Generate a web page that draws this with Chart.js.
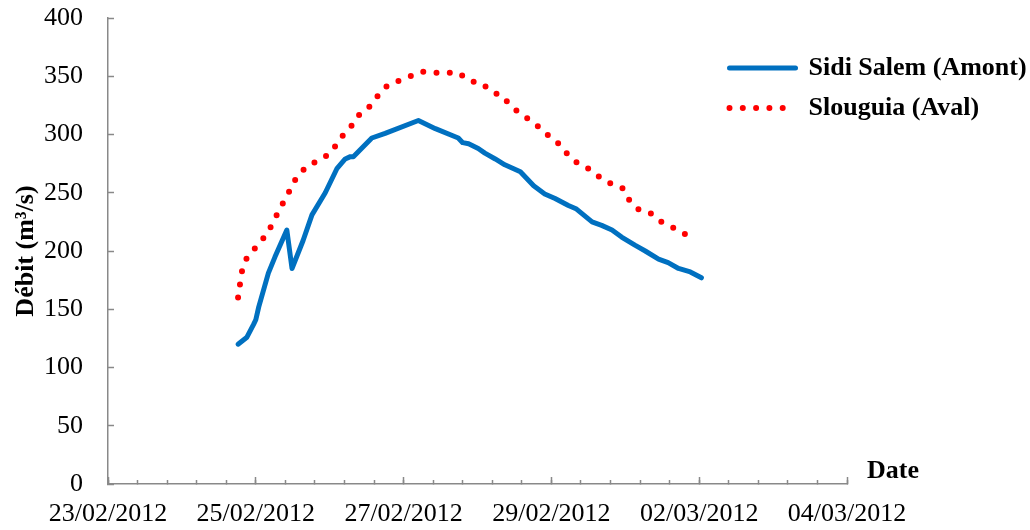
<!DOCTYPE html>
<html>
<head>
<meta charset="utf-8">
<script src="https://cdn.jsdelivr.net/npm/chart.js@4.4.1/dist/chart.umd.min.js"></script>
<style>
  body { margin: 0; background: #fff; }
</style>
</head>
<body>
<canvas id="debit-chart" width="1030" height="530"></canvas>
<script>
// time in days counted from 23/02/2012 00:00, flow in m3/s
var sidiDays = [1.76, 1.88, 1.97, 2.00, 2.04, 2.17, 2.26, 2.42, 2.49, 2.64, 2.76, 2.94, 3.10, 3.21, 3.28, 3.32,
                3.57, 3.75, 4.20, 4.43, 4.74, 4.80, 4.88, 5.01, 5.10, 5.24, 5.37, 5.58, 5.76, 5.91, 6.05,
                6.14, 6.23, 6.34, 6.55, 6.68, 6.82, 6.95, 7.13, 7.27, 7.45, 7.58, 7.72, 7.88, 8.03];
var sidiFlow = [120, 126, 137, 141, 152, 181, 195, 218, 185, 209, 231, 250, 271, 279, 281, 281,
                297, 301, 312, 305, 297, 293, 292, 288, 284, 279, 274, 268, 256, 249, 245,
                242, 239, 236, 225, 222, 218, 212, 205, 200, 193, 190, 185, 182, 177];

var slouDays = [1.76, 1.81, 1.87, 1.97, 2.08, 2.18, 2.26, 2.34, 2.43, 2.50, 2.60, 2.72, 2.87, 3.01, 3.11, 3.21,
                3.32, 3.41, 3.56, 3.66, 3.78, 3.93, 4.09, 4.25, 4.38, 4.57, 4.74, 4.89, 5.06, 5.18, 5.34,
                5.44, 5.58, 5.72, 5.86, 5.98, 6.12, 6.23, 6.36, 6.52, 6.66, 6.80, 6.96, 7.05, 7.17, 7.33,
                7.46, 7.62, 7.77, 7.92];
var slouFlow = [160, 182, 193, 201, 209, 218, 228, 238, 248, 258, 267, 274, 278, 284, 293, 302,
                309, 318, 325, 334, 342, 346, 350, 354, 353, 353, 353, 346, 344, 337, 333,
                325, 318, 312, 305, 298, 291, 282, 275, 270, 263, 258, 254, 244, 236, 233,
                226, 221, 216, 210];

// one label every 2 days
var dateLabels = ['23/02/2012', '25/02/2012', '27/02/2012', '29/02/2012', '02/03/2012', '04/03/2012'];
var yTicks = [0, 50, 100, 150, 200, 250, 300, 350, 400];

function toPoints(days, flow) {
    var pts = [];
    for (var i = 0; i < days.length; i++) {
        pts.push({ x: days[i], y: flow[i] });
    }
    return pts;
}

var axisGrey = '#898989';
Chart.defaults.font.family = 'Liberation Serif';
Chart.defaults.color = '#000';

// put the legend inside the plot, top right
var placeLegend = {
    id: 'placeLegend',
    afterLayout: function(chart) {
        var lg = chart.legend;
        lg.left = 715.5;
        lg.top = 41;
        lg.right = chart.width;
        lg.bottom = lg.top + lg.height + 10;
    }
};

// "Date" written at the end of the x axis
var dateTitle = {
    id: 'dateTitle',
    afterDraw: function(chart) {
        var c = chart.ctx, area = chart.chartArea;
        c.save();
        c.font = 'bold 26px "Liberation Serif"';
        c.fillStyle = '#000';
        c.textAlign = 'left';
        c.textBaseline = 'middle';
        c.fillText('Date', area.right + 20, area.bottom - 13);
        c.restore();
    }
};

var ctx = document.getElementById('debit-chart');

var chart = new Chart(ctx, {
    type: 'line',
    data: {
        datasets: [
            {
                label: 'Sidi Salem (Amont)',
                data: toPoints(sidiDays, sidiFlow),
                borderColor: '#0070C0',
                backgroundColor: '#0070C0',
                borderWidth: 5,
                borderCapStyle: 'round',
                borderJoinStyle: 'round',
                pointRadius: 0,
                tension: 0
            },
            {
                label: 'Slouguia (Aval)',
                data: toPoints(slouDays, slouFlow),
                borderColor: '#FF0000',
                backgroundColor: '#FF0000',
                borderWidth: 6,
                borderDash: [0, 13.3],
                borderCapStyle: 'round',
                pointRadius: 0,
                tension: 0
            }
        ]
    },
    options: {
        responsive: false,
        animation: false,
        layout: { padding: { left: 0, right: 183, top: 18, bottom: 0 } },
        plugins: {
            tooltip: { enabled: false },
            legend: {
                position: 'chartArea',
                align: 'start',
                labels: {
                    usePointStyle: true,
                    pointStyle: 'line',
                    pointStyleWidth: 66,
                    padding: 14,
                    color: '#000',
                    font: { size: 26, weight: 'bold' },
                    // point style items lose the dash, take it from the dataset
                    generateLabels: function(chart) {
                        var items = Chart.defaults.plugins.legend.labels.generateLabels(chart);
                        items.forEach(function(it) {
                            var ds = chart.data.datasets[it.datasetIndex];
                            it.lineDash = ds.borderDash || [];
                            it.lineCap = ds.borderCapStyle || 'butt';
                            it.lineWidth = ds.borderWidth;
                        });
                        return items;
                    }
                }
            }
        },
        scales: {
            x: {
                type: 'linear',
                position: 'bottom',
                min: 0,
                max: 10,
                afterFit: function(s) { s.height = 46; },
                border: { color: axisGrey, width: 1.5 },
                grid: { drawOnChartArea: false, tickLength: -4, color: axisGrey, tickWidth: 1.5 },
                ticks: {
                    stepSize: 0.4,
                    autoSkip: false,
                    maxRotation: 0,
                    padding: 19,
                    font: { size: 26 },
                    callback: function(v, i) {
                        return i % 5 === 0 ? dateLabels[i / 5] : '';
                    }
                }
            },
            // longer tick marks every 2 days
            xMajor: {
                type: 'linear',
                position: 'bottom',
                weight: -1,
                min: 0,
                max: 10,
                afterFit: function(s) { s.height = 0; },
                border: { display: false },
                grid: { drawOnChartArea: false, tickLength: -7, color: axisGrey, tickWidth: 1.5 },
                ticks: { stepSize: 2, display: false }
            },
            y: {
                min: yTicks[0],
                max: yTicks[yTicks.length - 1],
                afterFit: function(s) {
                    // keep the wide label gap from pushing the plot down
                    s.width = 108;
                    s.paddingTop = 16;
                    s.paddingBottom = 16;
                },
                border: { color: axisGrey, width: 1.5 },
                grid: { drawOnChartArea: false, tickLength: -6, color: axisGrey, tickWidth: 1.5 },
                ticks: {
                    stepSize: 50,
                    padding: 31,
                    font: { size: 26 }
                },
                title: {
                    display: true,
                    text: 'Débit (m³/s)',
                    font: { size: 26, weight: 'bold' },
                    padding: { top: 11, bottom: 0 }
                }
            }
        }
    },
    plugins: [placeLegend, dateTitle]
});
</script>
</body>
</html>
